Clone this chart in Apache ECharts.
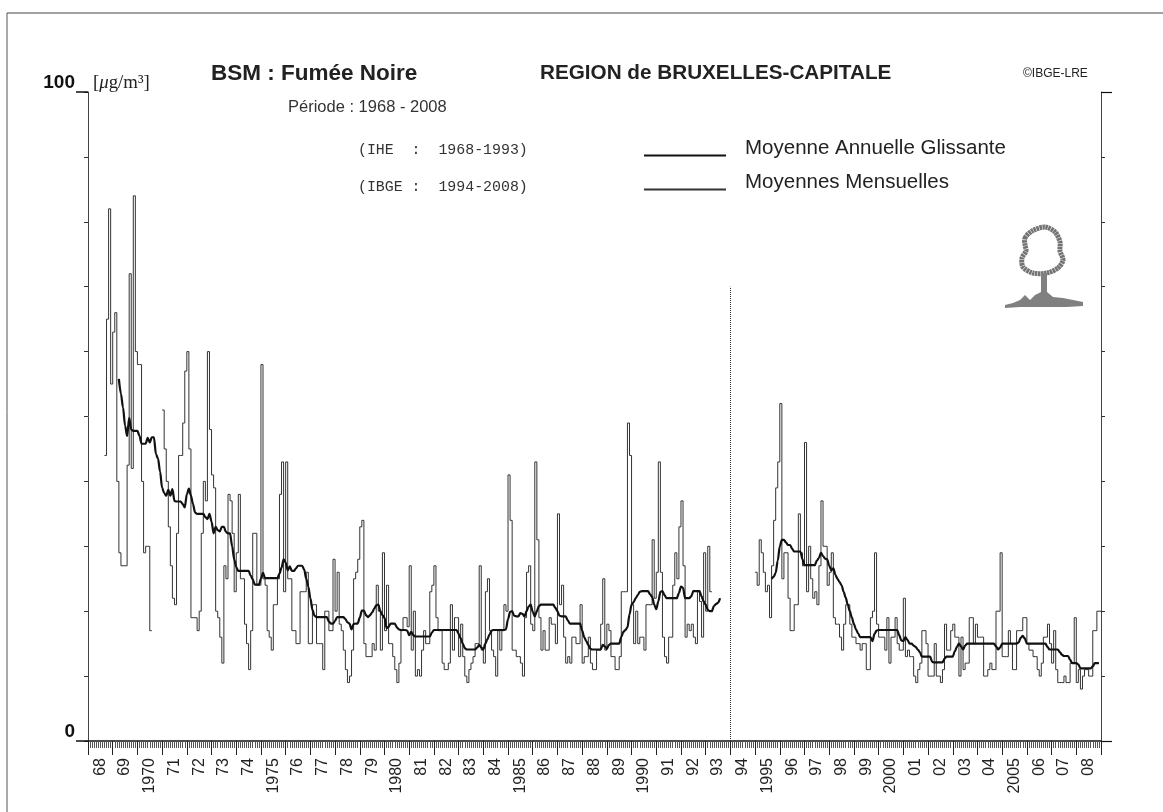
<!DOCTYPE html>
<html>
<head>
<meta charset="utf-8">
<title>BSM : Fumée Noire</title>
<script src="https://cdn.jsdelivr.net/npm/echarts@6/dist/echarts.min.js"></script>
<style>
  html, body { margin: 0; padding: 0; background: #fff; }
  #chart { width: 1163px; height: 812px; }
</style>
</head>
<body>
<div id="chart"></div>
<script>
const n = null;
const startYear = 1968;
const endYear = 2009;
const dividerYear = 1994;
const dividerTop = 70;

const yearLabels = ["68","69","1970","71","72","73","74","1975","76","77","78","79","1980","81","82","83","84","1985","86","87","88","89","1990","91","92","93","94","1995","96","97","98","99","2000","01","02","03","04","2005","06","07","08"];

// moyennes mensuelles, 12 valeurs par an
const monthlyValues = [
  n,n,n,n,n,n,n,n,44,65,82,55,
  63,66,40,29,27,27,27,42.5,72,42,84,60,
  58,58,40,29,30,30,17,n,n,n,n,n,
  51,45,40,33,27,22,21,32,44,44,49,57,
  60,45,19,19,19,17,20,32,40,37,60,48,
  41,39,20,19,16,12,27,25,38,37,32,23,
  29,38,25,25,18,15,11,17,32,32,24,24,
  58,25,24,17,16,14,21,21,25,38,43,23,
  43,25,25,17,17,15,15,23,23,23,26,15,
  15,21,21,15,15,15,11,20,20,17,17,28,
  20,26,18,17,14,11,9,10,14,25,26,28,
  33,34,15,13,13,13,15,14,24,20,14,29,
  17,24,15,15,13,11,9,12,17,19,19,17.6,
  27,14,20,10,11,10,14,17,15,15,23,24,
  27,19,17,17,12,11,11,12,21,14,19,19,
  13,18,13,10,9,11,12,13,15,15,27,14,
  12,23,25,17,14,13,10,17,14,17,21,20,
  41,34,14,14,13,13,12,10,19,26,27,18,
  17,43,31,19,14,17,14,14,19,18,18,15,
  35,21,24,16,12,13,12,16,16,15,15,21,
  12,13,13,16,12,11,11,14,14,18,25,14,
  18,17,13,13,11,11,13,23,23,23,49,44,
  21,15,20,15,16,16,14,21,21,21,31,22,
  26,43,26,16,13,12,16,16,24,29,25,33,
  37,27,16,18,17,18,16,15,23,21.5,16,29,
  20,30,23,n,n,n,n,n,n,n,n,n,
  n,n,n,n,n,n,n,n,n,n,n,n,
  26,24,31,29,26,23,24,19,27,34,39,43,
  52,25,29,29,22,17,17,21,21,35,29,27,
  46,23,30,25,22,23,21,27,37,30,30,24,
  26,29,19,18,18,16,14,18,21,21,18,16,
  16,15,15,14,15,15,11,11,19,20,29,18,
  16,16,16,14,19,12,16,16,19,15,14,14,
  22,13,14,13,13,10,9,11,12,17,17,15,
  10,10,10,15,10,10,9,11,18,14,14,17,
  18,16,16,10,16,11,12,12,19,19,15,18,
  16,16,16,10,10,11,12,11,11,20,20,29,
  13,13,13,17,15,11,11,17,17,17,19,19,
  15,14,14,13,13,11,10,12,16,16,18,15,
  12,17,11,9,9,9,10,9,9,12,12,19,
  9,11,8,10,11,11,10,10,17,17,20,20
];

// moyenne annuelle glissante
const rollingValues = [
  n,n,n,n,n,n,n,n,n,n,n,n,
  n,n,n,55.8,53.5,51.4,48.6,47,49.8,48,47.8,47.8,
  47.8,47,45.8,45.8,45.8,46.7,46,46.8,46.8,44.2,43.5,41.5,
  39,38.2,37.8,38.7,37.8,38.8,37,36.9,36.9,36.9,36.5,36,
  38,38.9,37.8,36.5,35.2,35,35,35,35,34.5,34.2,35,
  33.8,32,33,32.5,32.3,33,33,32.2,32,32,30,28,
  26.8,26.2,26.2,26.2,26.2,26.2,26.2,25.5,24.9,24.1,24.1,24.1,
  25,25.9,25.1,25.1,25.1,25.1,25.1,25.1,25.1,25.8,26.7,28,
  27.5,26.3,26.9,26.2,26.2,26.6,27,27,27,26.4,25,23.8,
  22,20.2,19.3,19.1,19.1,19.1,19.1,19.1,19.1,18.4,18.1,18.1,
  18.5,19.1,19.1,19.1,19.1,18.8,18.3,18.1,17.2,18,18.1,18.1,
  19,20.1,20.1,19.4,19.1,19.4,19.8,20.4,20.9,21,20,19.4,
  19,17.4,17.6,18.1,18.1,18.1,17.5,17.2,17.1,17.1,17.1,17,
  16.3,16.8,16.3,16.1,16.1,16.1,16.1,16.1,16.1,16.1,16.1,16.7,
  17.1,17.1,17.1,17.1,17.1,17.1,17.1,17.1,17.1,17.1,17.1,17.1,
  16.5,15.8,15,14.3,14.1,14.1,14.1,14.1,14.1,14.4,14.8,14.4,
  14.1,15,15.7,16.4,17,17.1,17.1,17.1,17.1,17.1,17.1,17.2,
  18.8,19.9,20,19.3,19.2,19.2,19.7,19.6,19.2,20,20.7,21,
  19.9,19.2,20,20.8,21,21,21,21,21,21,21,20.5,
  20,19.3,19.2,19.2,19.2,18.6,18.1,18.1,18.1,18.1,18.1,18.1,
  17,16,15.4,14.8,14.2,14.1,14.1,14.1,14.1,14.1,14.8,14.6,
  14.2,14.8,15,15,15,15,15,16,16.8,17.1,17.5,19.5,
  21,21.4,22,22.5,23,23.1,23.1,23.1,23.1,22.6,22.2,21,
  20.3,21.5,23,23.1,22.5,22,22,22,22,22,22,22.8,
  23.8,23.6,22,22,22,22.3,23.1,23.1,23.1,23.1,22.3,21.5,
  21,20.2,20,20,20.8,21.1,21.3,22,n,n,n,n,
  n,n,n,n,n,n,n,n,n,n,n,n,
  n,n,n,n,n,n,n,n,25,25.3,25.9,27.8,
  30,31,31,30.6,30.2,30.2,29.6,29.2,29.2,29.2,29.2,28,
  27.1,27.1,27.1,27.1,27.1,27.1,27.8,28.2,29,28.5,28.1,28,
  27,26.3,26.6,25.6,25,24.5,24,23,22.1,21,20,19,
  18,17.2,16.6,16,16,16,16,16,16,15.4,16.5,17,
  17.1,17.1,17.1,17.1,17.1,17.1,17.1,17.1,17.1,17.1,16.3,15.5,
  15.4,16,15.6,15,15,14.7,14.5,14.1,13.7,13,13,13,
  13,13,12.2,12.1,12.1,12.1,12.1,12.1,12.7,13,13,13,
  13,13.8,14.5,15,14.6,14.1,14.7,15,15,15,15,15,
  15,15,15,15,15,15,15,15,15,14.6,14.1,14.4,
  15,15,15,15,15,15,15,15,15.2,15.9,16.2,15.8,
  15,15,15,15,15,15,15,15,15,15,14.5,14.1,
  14.1,14.1,14.1,14.1,13.7,13.3,13.1,13.1,13.1,12.5,12,12,
  12,11.8,11.2,11.2,11.2,11.2,11.2,11.2,11.5,12,12,12
];

function toPoints(values) {
  const pts = values.map((v, i) => [startYear + i / 12, v]);
  pts.push([endYear, values[values.length - 1]]);
  return pts;
}

const ink = "#222";
const sans = "Liberation Sans";

const chart = echarts.init(document.getElementById("chart"));

function titleItem(text, left, top, size, extra) {
  return {
    text: text,
    left: left,
    top: top,
    padding: 0,
    textStyle: Object.assign({ color: ink, fontFamily: sans, fontSize: size, fontWeight: "normal" }, extra || {})
  };
}

chart.setOption({
  animation: false,
  backgroundColor: "#fff",
  title: [
    titleItem("BSM : Fumée Noire", 211, 62, 22.5, { fontWeight: "bold" }),
    titleItem("REGION de BRUXELLES-CAPITALE", 540, 63, 20.7, { fontWeight: "bold" }),
    titleItem("©IBGE-LRE", 1023, 68, 12),
    titleItem("Période : 1968 - 2008", 288, 99, 16.5, { color: "#333" }),
    titleItem("(IHE  :  1968-1993)", 358, 143, 14.9, { fontFamily: "Liberation Mono", color: "#333" }),
    titleItem("(IBGE :  1994-2008)", 358, 180, 14.9, { fontFamily: "Liberation Mono", color: "#333" }),
    titleItem("[{m|μ}g/m³]", 93, 74, 18.8, {
      fontFamily: "Liberation Serif",
      rich: { m: { fontFamily: "Liberation Serif", fontStyle: "italic", fontSize: 18.8, color: ink } }
    })
  ],
  legend: {
    left: 643,
    top: 138,
    padding: 0,
    orient: "vertical",
    itemWidth: 82,
    itemHeight: 14,
    itemGap: -1,
    inactiveColor: ink,
    selectedMode: false,
    itemStyle: { opacity: 0 },
    data: ["Moyenne Annuelle Glissante", "Moyennes Mensuelles"],
    // ligne vide pour remonter le texte au-dessus du trait
    formatter: name => name + "\n ",
    textStyle: {
      color: ink,
      fontFamily: sans,
      fontSize: 20.5,
      lineHeight: 14,
      padding: [0, 0, 0, 14]
    }
  },
  grid: { left: 88, right: 62, top: 92, bottom: 71 },
  xAxis: [
    {
      type: "value",
      min: startYear,
      max: endYear,
      interval: 1,
      splitLine: { show: false },
      axisLine: { lineStyle: { color: "#111", width: 1.5 } },
      axisTick: { length: 14, lineStyle: { color: "#222", width: 1 } },
      minorTick: { show: true, splitNumber: 12, length: 7, lineStyle: { color: "#555", width: 1 } },
      minorSplitLine: { show: false },
      axisLabel: { show: false }
    },
    {
      type: "category",
      position: "bottom",
      data: yearLabels,
      axisLine: { show: false },
      axisTick: { show: false },
      axisLabel: {
        interval: 0,
        rotate: 90,
        margin: 17,
        color: ink,
        fontFamily: sans,
        fontSize: 16
      }
    }
  ],
  yAxis: [
    {
      type: "value", position: "left", min: 0, max: 100, interval: 10,
      splitLine: { show: false },
      axisLine: { show: true, lineStyle: { color: "#444", width: 1 } },
      axisTick: { show: true, length: 4, lineStyle: { color: "#333" } },
      axisLabel: { show: false }
    },
    {
      type: "value", position: "right", min: 0, max: 100, interval: 10,
      splitLine: { show: false },
      axisLine: { show: true, lineStyle: { color: "#444", width: 1 } },
      axisTick: { show: true, length: 4, lineStyle: { color: "#333" } },
      axisLabel: { show: false }
    },
    {
      type: "value", position: "left", min: 0, max: 100, interval: 100,
      splitLine: { show: false },
      axisLine: { show: false },
      axisTick: { show: true, length: 12, lineStyle: { color: "#111", width: 1.5 } },
      axisLabel: {
        margin: 13,
        color: "#111",
        fontFamily: sans,
        fontWeight: "bold",
        fontSize: 19,
        verticalAlign: "bottom"
      }
    },
    {
      type: "value", position: "right", min: 0, max: 100, interval: 100,
      splitLine: { show: false },
      axisLine: { show: false },
      axisTick: { show: true, length: 11, lineStyle: { color: "#111", width: 1.2 } },
      axisLabel: { show: false }
    }
  ],
  series: [
    {
      name: "Moyennes Mensuelles",
      type: "line",
      step: "end",
      symbol: "none",
      connectNulls: false,
      data: toPoints(monthlyValues),
      color: "#333",
      lineStyle: { color: "#333", width: 1 },
      z: 2,
      markLine: {
        silent: true,
        symbol: "none",
        label: { show: false },
        lineStyle: { color: "#333", type: "dotted", width: 1 },
        data: [[{ coord: [dividerYear, 0] }, { coord: [dividerYear, dividerTop] }]]
      }
    },
    {
      name: "Moyenne Annuelle Glissante",
      type: "line",
      smooth: 0.3,
      smoothMonotone: "x",
      symbol: "none",
      connectNulls: false,
      data: rollingValues.map((v, i) => [startYear + i / 12, v]),
      color: "#111",
      lineStyle: { color: "#111", width: 2.2 },
      z: 3
    }
  ],
  graphic: [
    // cadre du scan
    { type: "line", silent: true, shape: { x1: 7, y1: 13, x2: 1163, y2: 13 }, style: { stroke: "#444", lineWidth: 1 } },
    { type: "line", silent: true, shape: { x1: 7, y1: 13, x2: 7, y2: 812 }, style: { stroke: "#555", lineWidth: 1 } },
    // arbre
    {
      type: "polygon",
      silent: true,
      shape: {
        smooth: 0.3,
        points: [[1025,238],[1032,231],[1045,227],[1055,232],[1060,242],[1060,251],[1063,260],[1058,268],[1047,273],[1033,273],[1023,267],[1022,258],[1026,251],[1025,245]]
      },
      style: { fill: "none", stroke: "#737373", lineWidth: 5, lineDash: [2.5, 0.5] }
    },
    {
      type: "polygon",
      silent: true,
      shape: {
        points: [[1041,273],[1041,292],[1035,295],[1030,300],[1025,295],[1020,300],[1013,303],[1005,305],[1005,308],[1020,307],[1033,307],[1050,307],[1067,307],[1083,306],[1083,302],[1073,300],[1063,298],[1053,297],[1047,292],[1047,273]]
      },
      style: { fill: "#808080" }
    }
  ]
});
</script>
</body>
</html>
